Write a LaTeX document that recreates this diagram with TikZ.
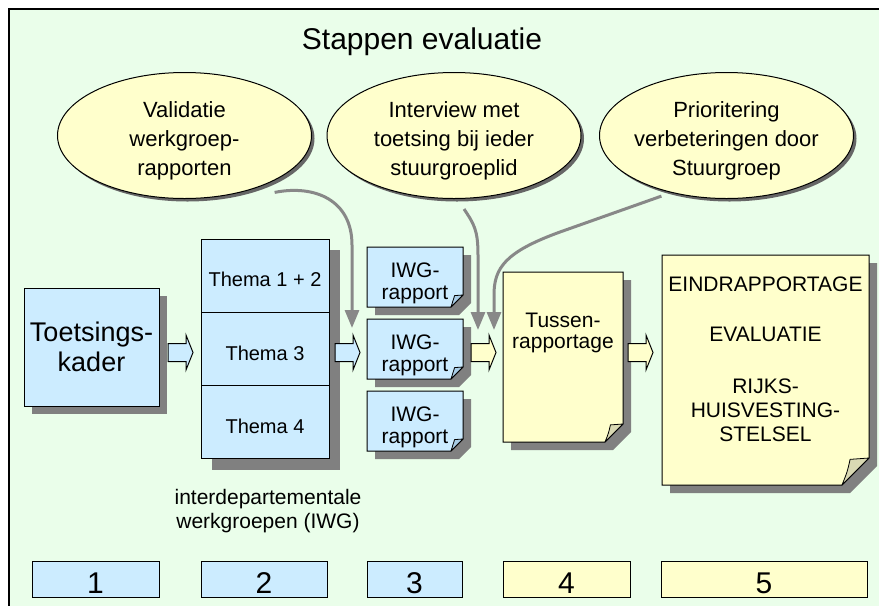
\documentclass[tikz,border=0pt]{standalone}
\usepackage{fontspec}
\setmainfont{Liberation Sans}
\usetikzlibrary{positioning,calc,shadows,arrows.meta,shapes.geometric}

\definecolor{bggreen}{HTML}{EAFEEA}
\definecolor{blu}{HTML}{CCECFF}
\definecolor{yel}{HTML}{FFFFCC}
\definecolor{blufold}{HTML}{A9CDE6}
\definecolor{yelfold}{HTML}{D9D9B3}
\definecolor{shadowgray}{HTML}{808080}
\definecolor{arrowgray}{HTML}{888888}

\pgfdeclarelayer{frame}
\pgfdeclarelayer{shade}
\pgfdeclarelayer{body}
\pgfsetlayers{frame,shade,body,main}

% report sheet with a folded corner: node, fold, fill, fold fill
\newcommand\docshape[4]{%
  \begin{pgfonlayer}{shade}
    \fill[shadowgray] ([shift={(8,8)}]#1.north west) -- ([shift={(8,8)}]#1.north east)
      -- ([shift={(8,8-#2)}]#1.south east) -- ([shift={(8-#2,8)}]#1.south east)
      -- ([shift={(8,8)}]#1.south west) -- cycle;
  \end{pgfonlayer}
  \begin{pgfonlayer}{body}
    \draw[line width=1pt, fill=#3] (#1.north west) -- (#1.north east)
      -- ([yshift=#2pt]#1.south east) -- ([xshift=-#2pt]#1.south east)
      -- (#1.south west) -- cycle;
  \end{pgfonlayer}
  \draw[line width=0.8pt, fill=#4, line join=round] ([xshift=-#2pt]#1.south east)
    .. controls ([shift={(-0.8*#2,-0.5*#2)}]#1.south east) .. ([shift={(-0.7*#2,-0.95*#2)}]#1.south east)
    -- ([yshift=#2pt]#1.south east) -- cycle;
}

% hollow block arrow: name, centre, fill
\newcommand\blockarrow[3]{%
  \coordinate (#1) at #2;
  \draw[line width=1pt, fill=#3, line join=miter]
    ([shift={(-12.5,-9)}]#1) -- ([shift={(5.5,-9)}]#1) -- ([shift={(5.5,-17.5)}]#1)
    -- ([shift={(12.5,0)}]#1) -- ([shift={(5.5,17.5)}]#1) -- ([shift={(5.5,9)}]#1)
    -- ([shift={(-12.5,9)}]#1) -- cycle;
}

\begin{document}
\begin{tikzpicture}[x=1pt, y=-1pt,
    plainbox/.style={draw, line width=1pt, inner sep=0pt, outer sep=0pt, align=center},
    bubble/.style={ellipse, draw, line width=1pt, fill=yel, inner xsep=-20pt, inner ysep=0pt,
      align=center, minimum width=254pt, minimum height=126pt,
      font=\fontsize{22}{29}\selectfont,
      drop shadow={shadow xshift=3pt, shadow yshift=-3pt, fill=black!60, opacity=1}},
    thema/.style={plainbox, fill=blu, minimum width=128pt, minimum height=73.3pt,
      font=\fontsize{20}{24}\selectfont, text height=22pt, text depth=0pt},
    doc/.style={inner sep=0pt, outer sep=0pt, align=center},
    numbox/.style={plainbox, minimum height=36pt, font=\fontsize{30}{30}\selectfont,
      text height=28.5pt, text depth=0pt},
    feedback/.style={draw=arrowgray, line width=3pt, -{Triangle[width=14pt, length=18pt]}}]

  \useasboundingbox (0,0) rectangle (879,606);

  % frame
  \begin{pgfonlayer}{frame}
    \fill[white] (0,0) rectangle (879,606);
    \fill[bggreen] (9,9) rectangle (879,606);
    \draw[line width=1.5pt] (879,9) -- (9,9) -- (9,606);
  \end{pgfonlayer}

  \node[anchor=base, font=\fontsize{30}{36}\selectfont] (title) at (422,49) {Stappen evaluatie};

  % evaluation steps
  \node[bubble] (valid) at (184.5,135.5) {\rule{0pt}{25.6pt}Validatie\\werkgroep-\\rapporten};
  \node[bubble] (interv) at (454,135.5) {\rule{0pt}{25.6pt}Interview met\\toetsing bij ieder\\stuurgroeplid};
  \node[bubble] (prior) at (726.5,135.5) {\rule{0pt}{25.6pt}Prioritering\\verbeteringen door\\Stuurgroep};

  % framework and themes
  \node[plainbox, fill=blu, minimum width=135pt, minimum height=118pt,
    font=\fontsize{27}{30}\selectfont,
    drop shadow={shadow xshift=8pt, shadow yshift=-8pt, fill=shadowgray, opacity=1}]
    (kader) at (91.5,347) {Toetsings-\\kader};

  \node[thema] (th1) at (265,275.7) {Thema 1 + 2};
  \node[thema, below=0pt of th1] (th2) {Thema 3};
  \node[thema, below=0pt of th2] (th3) {Thema 4};
  \begin{pgfonlayer}{shade}
    \fill[shadowgray] ([shift={(11,11)}]th1.north west) rectangle ([shift={(11,11)}]th3.south east);
  \end{pgfonlayer}
  \node[align=center, font=\fontsize{21}{24}\selectfont, below=27pt of th3, xshift=3pt]
    (iwgnote) {interdepartementale\\werkgroepen (IWG)};

  % reports
  \node[doc, minimum width=96pt, minimum height=60pt, font=\fontsize{21}{22}\selectfont]
    (iwg1) at (415,277) {\rule{0pt}{27.4pt}IWG-\\rapport};
  \node[doc, minimum width=96pt, minimum height=60pt, font=\fontsize{21}{22}\selectfont,
    below=12pt of iwg1] (iwg2) {\rule{0pt}{27.4pt}IWG-\\rapport};
  \node[doc, minimum width=96pt, minimum height=60pt, font=\fontsize{21}{22}\selectfont,
    below=12pt of iwg2] (iwg3) {\rule{0pt}{27.4pt}IWG-\\rapport};
  \docshape{iwg1}{12}{blu}{blufold}
  \docshape{iwg2}{12}{blu}{blufold}
  \docshape{iwg3}{12}{blu}{blufold}

  \node[doc, minimum width=120pt, minimum height=170pt, font=\fontsize{21}{21}\selectfont]
    (tussen) at (563,357) {Tussen-\\rapportage\rule[-52pt]{0pt}{52pt}};
  \docshape{tussen}{18}{yel}{yelfold}

  \node[doc, minimum width=207pt, minimum height=230pt, font=\fontsize{21}{24}\selectfont]
    (eind) at (765.5,370) {EINDRAPPORTAGE\\[26pt]EVALUATIE\\[28pt]RIJKS-\\HUISVESTING-\\STELSEL\rule[-21pt]{0pt}{21pt}};
  \docshape{eind}{27}{yel}{yelfold}

  % block arrows
  \blockarrow{ar1}{(180.5,352.5)}{blu}
  \blockarrow{ar2}{(347.5,352.5)}{blu}
  \blockarrow{ar3}{(483.5,352.5)}{yel}
  \blockarrow{ar4}{(640.5,352.5)}{yel}

  % step numbers
  \foreach \x/\w/\c/\n in {95.5/127/blu/1, 264/126/blu/2, 414.5/95/blu/3, 566.5/127/yel/4, 764/206/yel/5}
    \node[numbox, minimum width=\w pt, fill=\c] (nr\n) at (\x,579) {\n};

  % feedback lines
  \coordinate (tip1) at (352,328);
  \coordinate (tip2) at (478,330);
  \coordinate (tip3) at (494,330);
  \draw[feedback] ([yshift=-12pt]valid.south east) .. controls +(40,-8) and +(0,-45) .. (352,245) -- (tip1);
  \draw[feedback] ([shift={(10,10)}]interv.south) .. controls +(10,15) and +(0,-25) .. (478,255) -- (tip2);
  \draw[feedback] ([yshift=-6pt]prior.220) -- (560,232) .. controls (505,252) and (494,268) .. (494,295) -- (tip3);
\end{tikzpicture}
\end{document}
